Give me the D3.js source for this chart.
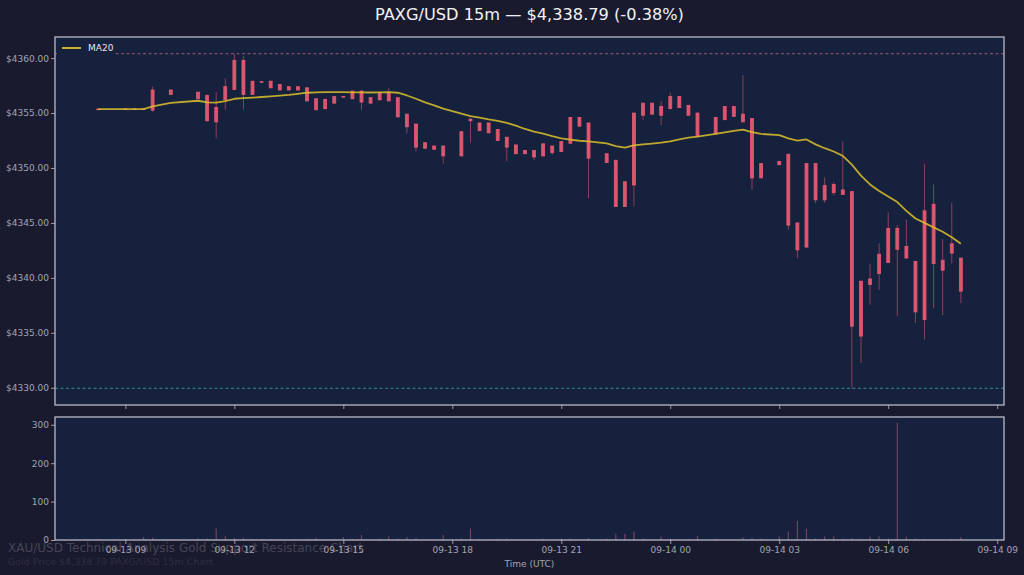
<!DOCTYPE html>
<html>
<head>
<meta charset="utf-8">
<script src="https://cdn.jsdelivr.net/npm/d3@7/dist/d3.min.js"></script>
<style>
  html, body { margin: 0; padding: 0; background: #1a1a2e; }
  svg { display: block; font-family: "DejaVu Sans", sans-serif; }
</style>
</head>
<body>
<svg id="chart" width="1024" height="575"></svg>
<script>
// ---------------- DATA ----------------
const times = [
  "09-13 08:15","09-13 09:00","09-13 09:15","09-13 09:30","09-13 09:45","09-13 10:15",
  "09-13 11:00","09-13 11:15","09-13 11:30","09-13 11:45","09-13 12:00","09-13 12:15",
  "09-13 12:30","09-13 12:45","09-13 13:00","09-13 13:15","09-13 13:30","09-13 13:45",
  "09-13 14:00","09-13 14:15","09-13 14:30","09-13 14:45","09-13 15:00","09-13 15:15",
  "09-13 15:30","09-13 15:45","09-13 16:00","09-13 16:15","09-13 16:30","09-13 16:45",
  "09-13 17:00","09-13 17:15","09-13 17:30","09-13 17:45","09-13 18:15","09-13 18:30",
  "09-13 18:45","09-13 19:00","09-13 19:15","09-13 19:30","09-13 19:45","09-13 20:00",
  "09-13 20:15","09-13 20:30","09-13 20:45","09-13 21:00","09-13 21:15","09-13 21:30",
  "09-13 21:45","09-13 22:15","09-13 22:30","09-13 22:45","09-13 23:00","09-13 23:15",
  "09-13 23:30","09-13 23:45","09-14 00:00","09-14 00:15","09-14 00:30","09-14 00:45",
  "09-14 01:15","09-14 01:30","09-14 01:45","09-14 02:00","09-14 02:15","09-14 02:30",
  "09-14 03:00","09-14 03:15","09-14 03:30","09-14 03:45","09-14 04:00","09-14 04:15",
  "09-14 04:30","09-14 04:45","09-14 05:00","09-14 05:15","09-14 05:30","09-14 05:45",
  "09-14 06:00","09-14 06:15","09-14 06:30","09-14 06:45","09-14 07:00","09-14 07:15",
  "09-14 07:30","09-14 07:45","09-14 08:00"
];
const opens = [
  4355.36,4355.38,4355.33,4355.38,4355.27,4356.70,
  4356.30,4356.60,4355.50,4356.20,4357.15,4359.80,
  4356.70,4357.85,4357.90,4357.60,4357.40,4357.10,
  4357.30,4356.30,4355.40,4356.50,4356.50,4356.30,
  4357.00,4356.40,4356.20,4356.85,4356.40,4354.90,
  4354.00,4352.30,4352.00,4352.00,4351.10,4354.45,
  4354.10,4353.20,4353.50,4352.80,4352.10,4351.60,
  4351.00,4351.10,4352.00,4351.50,4352.25,4354.60,
  4354.10,4351.30,4350.70,4346.50,4348.45,4354.80,
  4355.90,4354.80,4355.40,4356.50,4355.70,4355.00,
  4353.10,4354.40,4355.60,4354.90,4354.50,4349.10,
  4350.60,4351.25,4345.00,4342.80,4350.40,4348.40,
  4348.50,4348.00,4347.85,4334.70,4339.40,4340.40,
  4341.40,4344.50,4342.85,4341.50,4336.20,4346.70,
  4341.60,4342.25,4341.80
];
const highs = [
  4355.40,4355.42,4355.40,4355.42,4357.40,4357.10,
  4356.90,4356.70,4356.90,4358.15,4360.40,4360.20,
  4357.90,4357.90,4357.90,4357.60,4357.40,4357.40,
  4357.30,4356.30,4356.25,4356.50,4356.55,4357.00,
  4357.00,4356.40,4356.85,4357.25,4356.40,4354.90,
  4354.00,4352.30,4352.00,4352.00,4353.30,4354.50,
  4354.10,4354.10,4353.50,4352.80,4352.10,4351.60,
  4351.60,4352.20,4352.00,4352.40,4354.60,4354.60,
  4354.10,4351.30,4350.70,4348.75,4355.00,4355.90,
  4355.90,4356.10,4356.85,4356.50,4355.70,4355.00,
  4354.60,4355.60,4355.60,4358.45,4354.50,4350.40,
  4350.60,4351.25,4345.00,4350.40,4350.40,4349.15,
  4348.70,4352.40,4347.85,4339.70,4341.30,4343.15,
  4345.95,4344.80,4345.30,4341.50,4350.40,4348.50,
  4343.50,4346.85,4341.80
];
const lows = [
  4355.30,4355.30,4355.30,4355.30,4355.10,4356.70,
  4356.30,4354.20,4352.70,4355.30,4357.10,4355.30,
  4356.70,4357.80,4357.30,4357.10,4357.10,4357.10,
  4356.10,4355.30,4355.40,4355.90,4356.40,4356.30,
  4355.30,4355.90,4356.20,4356.10,4354.65,4353.15,
  4351.50,4351.80,4351.70,4350.40,4351.10,4352.30,
  4353.40,4353.20,4352.50,4350.60,4351.30,4351.30,
  4350.70,4351.10,4351.20,4351.50,4352.25,4353.80,
  4347.25,4350.50,4346.50,4346.50,4346.50,4354.40,
  4354.90,4353.90,4355.40,4355.50,4354.80,4352.90,
  4353.10,4354.40,4354.70,4354.20,4348.00,4349.10,
  4350.30,4344.40,4341.80,4342.80,4346.80,4346.85,
  4347.50,4347.60,4329.95,4332.25,4337.55,4338.90,
  4341.40,4336.50,4341.80,4335.90,4334.40,4337.25,
  4336.60,4341.30,4337.70
];
const closes = [
  4355.34,4355.33,4355.38,4355.33,4357.10,4357.10,
  4356.90,4354.30,4354.20,4357.40,4359.80,4356.70,
  4357.90,4357.85,4357.30,4357.10,4357.10,4357.40,
  4356.10,4355.30,4356.25,4355.90,4356.45,4357.00,
  4356.00,4355.90,4356.85,4356.10,4354.65,4353.75,
  4351.90,4351.80,4351.70,4351.10,4353.30,4354.30,
  4353.40,4354.10,4352.50,4351.90,4351.30,4351.30,
  4351.60,4352.20,4351.40,4352.40,4354.60,4353.80,
  4350.90,4350.50,4346.50,4348.75,4355.00,4355.90,
  4354.90,4355.60,4356.50,4355.50,4354.80,4352.90,
  4354.60,4355.60,4354.70,4354.20,4349.10,4350.40,
  4350.30,4344.80,4342.55,4350.40,4347.10,4347.10,
  4347.75,4347.60,4335.60,4339.70,4339.90,4342.15,
  4344.50,4342.60,4341.80,4336.90,4346.10,4341.30,
  4340.70,4343.10,4338.79
];
const volumes = [
  1,2,1,8,6,2,
  3,4,30,10,5,6,
  2,1,2,1,1,1,
  3,6,2,2,8,2,
  13,2,3,10,4,8,
  5,2,1,13,4,30,
  3,2,3,4,2,1,
  2,3,2,3,4,2,
  5,3,16,16,22,4,
  2,9,3,2,3,11,
  3,2,2,7,5,3,
  9,22,50,29,4,9,
  10,3,5,3,9,10,
  4,305,9,4,3,2,
  2,3,7
];
const ma20 = [
  4355.36,4355.36,4355.36,4355.36,4355.60,4355.92,
  4356.12,4355.98,4355.95,4356.08,4356.30,4356.35,
  4356.40,4356.46,4356.52,4356.58,4356.65,4356.75,
  4356.85,4356.88,4356.90,4356.90,4356.90,4356.88,
  4356.88,4356.87,4356.88,4356.90,4356.85,4356.60,
  4356.30,4355.98,4355.70,4355.40,4354.95,4354.72,
  4354.58,4354.42,4354.28,4354.10,4353.85,4353.55,
  4353.32,4353.12,4352.90,4352.70,4352.58,4352.48,
  4352.42,4352.24,4352.00,4351.85,4352.05,4352.15,
  4352.22,4352.30,4352.42,4352.60,4352.76,4352.85,
  4353.10,4353.25,4353.38,4353.50,4353.27,4353.10,
  4353.00,4352.70,4352.50,4352.60,4352.15,4351.80,
  4351.50,4351.10,4350.30,4349.30,4348.50,4347.90,
  4347.40,4346.90,4346.10,4345.40,4345.00,4344.60,
  4344.20,4343.70,4343.10
];
const priceTicks = [4330, 4335, 4340, 4345, 4350, 4355, 4360];
const volumeTicks = [0, 100, 200, 300];
const resistance = 4360.40;
const support = 4329.95;
const titleText = "PAXG/USD 15m \u2014 $4,338.79 (-0.38%)";
const xLabel = "Time (UTC)";
const legendLabel = "MA20";
const watermark1 = "XAU/USD Technical Analysis Gold Support Resistance Chart";
const watermark2 = "Gold Price $4,338.79 PAXG/USD 15m Chart";

// ---------------- LAYOUT ----------------
const W = 1024, H = 575;
const L = 55, R = 1004;
const mainTop = 37, mainBottom = 405;
const volTop = 417, volBottom = 540;
const FIG_BG = "#1a1a2e", AX_BG = "#16213e";
const SPINE = "#b9b9c9", TICKTXT = "#a3a3b3";
const CANDLE = "#ea5a72", MA_COL = "#dcbf2a";

const parse = d3.utcParse("%Y-%m-%d %H:%M");
const dates = times.map(t => parse("2025-" + t));
const t0 = dates[0], t1 = dates[dates.length - 1];
const span = t1 - t0;
const x = d3.scaleUtc()
  .domain([new Date(+t0 - span * 0.05), new Date(+t1 + span * 0.05)])
  .range([L, R]);

const pMin = d3.min(lows), pMax = d3.max(highs);
const pPad = (pMax - pMin) * 0.05;
const y = d3.scaleLinear().domain([pMin - pPad, pMax + pPad]).range([mainBottom, mainTop]);
const yv = d3.scaleLinear().domain([0, d3.max(volumes) * 1.05]).range([volBottom, volTop]);

const step = x(new Date(+t0 + 15 * 60000)) - x(t0);
const bodyW = step * 0.32;

const svg = d3.select("#chart");
svg.append("rect").attr("width", W).attr("height", H).attr("fill", FIG_BG);

// panels
svg.append("rect").attr("x", L).attr("y", mainTop).attr("width", R - L).attr("height", mainBottom - mainTop).attr("fill", AX_BG);
svg.append("rect").attr("x", L).attr("y", volTop).attr("width", R - L).attr("height", volBottom - volTop).attr("fill", AX_BG);

// support / resistance
const gMain = svg.append("g");
gMain.append("line").attr("x1", L).attr("x2", R)
  .attr("y1", y(resistance)).attr("y2", y(resistance))
  .attr("stroke", "#c86a85").attr("stroke-opacity", 0.75).attr("stroke-width", 1)
  .attr("stroke-dasharray", "3,2.5");
gMain.append("line").attr("x1", L).attr("x2", R)
  .attr("y1", y(support)).attr("y2", y(support))
  .attr("stroke", "#3fa9b5").attr("stroke-opacity", 0.75).attr("stroke-width", 1)
  .attr("stroke-dasharray", "3,2.5");

// candles
const idx = d3.range(dates.length);
gMain.selectAll("line.wick").data(idx).join("line")
  .attr("class", "wick")
  .attr("x1", i => x(dates[i])).attr("x2", i => x(dates[i]))
  .attr("y1", i => y(highs[i])).attr("y2", i => y(lows[i]))
  .attr("stroke", CANDLE).attr("stroke-opacity", 0.55).attr("stroke-width", 1);
gMain.selectAll("rect.body").data(idx).join("rect")
  .attr("class", "body")
  .attr("x", i => x(dates[i]) - bodyW / 2)
  .attr("width", bodyW)
  .attr("y", i => y(Math.max(opens[i], closes[i])))
  .attr("height", i => Math.max(0.6, Math.abs(y(opens[i]) - y(closes[i]))))
  .attr("fill", CANDLE).attr("fill-opacity", 0.9)
  .attr("stroke", CANDLE).attr("stroke-opacity", 0.9).attr("stroke-width", 0.9);

// MA line
gMain.append("path")
  .attr("d", d3.line().x(i => x(dates[i])).y(i => y(ma20[i]))(idx))
  .attr("fill", "none").attr("stroke", MA_COL).attr("stroke-width", 1.8)
  .attr("stroke-opacity", 0.85)
  .attr("stroke-linejoin", "round");

// legend
const lg = svg.append("g");
lg.append("rect").attr("x", 57).attr("y", 39).attr("width", 58).attr("height", 18).attr("fill", AX_BG);
lg.append("line").attr("x1", 62).attr("x2", 81).attr("y1", 48).attr("y2", 48)
  .attr("stroke", MA_COL).attr("stroke-width", 1.8);
lg.append("text").attr("x", 88).attr("y", 51.2).attr("font-size", 9).attr("fill", "#e4e4ec").text(legendLabel);

// volume bars
svg.append("g").selectAll("line").data(idx).join("line")
  .attr("x1", i => x(dates[i])).attr("x2", i => x(dates[i]))
  .attr("y1", yv(0)).attr("y2", i => yv(volumes[i]))
  .attr("stroke", "#e06a85").attr("stroke-opacity", 0.45).attr("stroke-width", 1.2);

// axes
const xTicks = d3.utcHour.every(3).range(new Date(Date.UTC(2025, 8, 13, 9)), new Date(Date.UTC(2025, 8, 14, 9, 1)));
const fmt = d3.utcFormat("%m-%d %H");

const axMainX = svg.append("g").attr("transform", `translate(0,${mainBottom})`)
  .call(d3.axisBottom(x).tickValues(xTicks).tickSize(4).tickFormat(""));
const axVolX = svg.append("g").attr("transform", `translate(0,${volBottom})`)
  .call(d3.axisBottom(x).tickValues(xTicks).tickSize(4).tickPadding(3).tickFormat(fmt));
const axMainY = svg.append("g").attr("transform", `translate(${L},0)`)
  .call(d3.axisLeft(y).tickValues(priceTicks).tickSize(4).tickPadding(2).tickFormat(d => "$" + d.toFixed(2)));
const axVolY = svg.append("g").attr("transform", `translate(${L},0)`)
  .call(d3.axisLeft(yv).tickValues(volumeTicks).tickSize(4).tickPadding(2).tickFormat(d3.format("d")));

[axMainX, axVolX, axMainY, axVolY].forEach(g => {
  g.select(".domain").remove();
  g.selectAll(".tick line").attr("stroke", SPINE).attr("stroke-width", 0.8);
  g.selectAll(".tick text").attr("fill", TICKTXT).attr("font-size", 9).attr("font-family", "DejaVu Sans");
});

// spines
[[mainTop, mainBottom], [volTop, volBottom]].forEach(([t, b]) => {
  svg.append("rect").attr("x", L).attr("y", t).attr("width", R - L).attr("height", b - t)
    .attr("fill", "none").attr("stroke", SPINE).attr("stroke-width", 1.3);
});

// title & labels
svg.append("text").attr("x", (L + R) / 2).attr("y", 19.5).attr("text-anchor", "middle")
  .attr("font-size", 16.2).attr("fill", "#f2f2f6").text(titleText);
svg.append("text").attr("x", (L + R) / 2).attr("y", 566.5).attr("text-anchor", "middle")
  .attr("font-size", 9).attr("fill", TICKTXT).text(xLabel);

// watermarks
svg.append("text").attr("x", 8).attr("y", 552).attr("font-size", 12)
  .attr("fill", "#ffffff").attr("fill-opacity", 0.2).text(watermark1);
svg.append("text").attr("x", 8).attr("y", 565).attr("font-size", 9.5)
  .attr("fill", "#ffffff").attr("fill-opacity", 0.1).text(watermark2);
</script>
</body>
</html>
